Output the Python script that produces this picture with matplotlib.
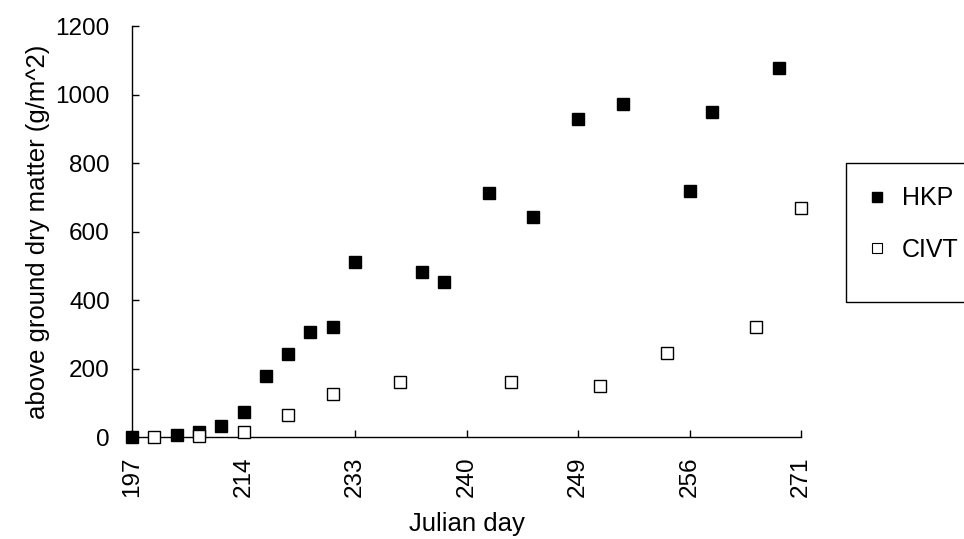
import numpy as np
import matplotlib
matplotlib.use('Agg')
import matplotlib.pyplot as plt
from matplotlib.patches import Rectangle
from matplotlib.lines import Line2D

plt.rcParams['font.family'] = ['Liberation Sans', 'DejaVu Sans']
plt.rcParams['font.size'] = 17.5

# category axis: 31 sampling slots, labelled every 5th slot
tick_pos = [0, 5, 10, 15, 20, 25, 30]
tick_labels = ['197', '214', '233', '240', '249', '256', '271']

nan = np.nan
# above ground dry matter (g/m^2) per slot, NaN where not sampled
hkp = [0, nan, 6, 15, 32, 73, 178, 243, 307, 322,
       512, nan, nan, 482, 453, nan, 713, nan, 643, nan,
       930, nan, 974, nan, nan, 719, 950, nan, nan, 1079, nan]
civt = [nan, 0, nan, 3, nan, 15, nan, 64, nan, 126,
        nan, nan, 161, nan, nan, nan, nan, 161, nan, nan,
        nan, 149, nan, nan, 246, nan, nan, nan, 322, nan, 670]

slots = np.arange(len(hkp))

fig = plt.figure(figsize=(9.64, 5.39), dpi=100)
ax = fig.add_axes([0.137, 0.189, 0.694, 0.762])

ax.plot(slots, hkp, linestyle='none', marker='s', markersize=8.6,
        color='black', clip_on=False, zorder=3)
ax.plot(slots, civt, linestyle='none', marker='s', markersize=9,
        markerfacecolor='white', markeredgecolor='black',
        markeredgewidth=1.0, clip_on=False, zorder=4)

ax.set_xlim(0, 30)
ax.set_ylim(0, 1200)
ax.set_yticks(np.arange(0, 1201, 200))
ax.set_xticks(tick_pos)
ax.set_xticklabels(tick_labels, rotation=90)

ax.spines['top'].set_visible(False)
ax.spines['right'].set_visible(False)
for s in ['left', 'bottom']:
    ax.spines[s].set_linewidth(1.0)
ax.tick_params(axis='both', direction='in', length=5, width=1.0)
ax.tick_params(axis='x', pad=14)
ax.tick_params(axis='y', pad=16)

ax.set_xlabel('Julian day', fontsize=18.5, labelpad=11)
ax.set_ylabel('above ground dry matter (g/m^2)', fontsize=18.5, labelpad=4)

# legend box, running off the right edge as in the original
fig.patches.append(Rectangle((846 / 964, 1 - 302 / 539), 0.2, 139 / 539,
                             transform=fig.transFigure, fill=False,
                             edgecolor='black', linewidth=1.0, clip_on=False))
handles = [
    Line2D([], [], linestyle='none', marker='s', markersize=6.5, color='black'),
    Line2D([], [], linestyle='none', marker='s', markersize=6.5,
           markerfacecolor='white', markeredgecolor='black', markeredgewidth=0.8),
]
fig.legend(handles, ['HKP', 'CIVT'], loc='center left', fontsize=18,
           bbox_to_anchor=(864 / 964, 1 - 224 / 539), frameon=False,
           handlelength=1.0, handletextpad=0.5, labelspacing=1.1,
           borderaxespad=0, borderpad=0)

fig.savefig('out.png', dpi=100)
